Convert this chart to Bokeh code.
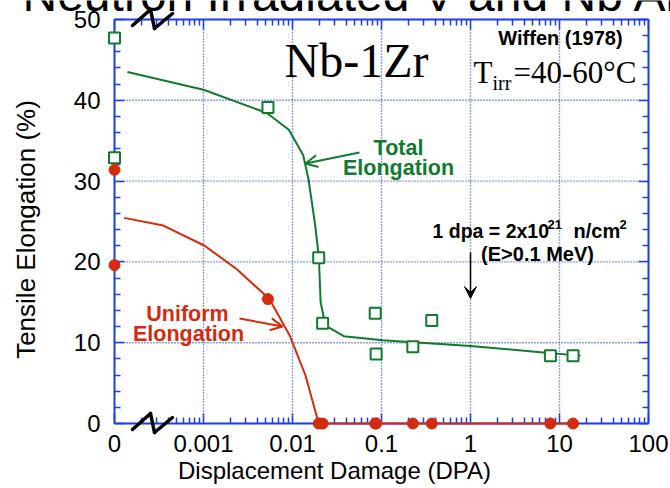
import math

from bokeh.plotting import figure
from bokeh.models import (Range1d, LinearAxis, LogAxis, FixedTicker, CustomJSTickFormatter,
                          Label, Arrow, OpenHead, VeeHead, Grid)
from bokeh.embed import file_html
from bokeh.resources import INLINE

# Tensile elongation of Nb-1Zr after neutron irradiation (Wiffen 1978).
# dpa = 0 marks the unirradiated controls, drawn at the origin of the broken axis.
total_dpa = [0, 0, 0.0053, 0.0197, 0.0218, 0.085, 0.087, 0.225, 0.367, 7.9, 14.2]
total_elong = [47.7, 32.9, 39.1, 20.5, 12.4, 13.65, 8.6, 9.5, 12.75, 8.4, 8.4]

uniform_dpa = [0, 0, 0.0053, 0.0197, 0.0218, 0.085, 0.087, 0.225, 0.367, 7.9, 14.2]
uniform_elong = [31.4, 19.6, 15.4, 0, 0, 0, 0, 0, 0, 0, 0]

# hand-drawn trend curves through the data
total_fit_dpa = [0.00014, 0.001, 0.0044, 0.0051, 0.0091, 0.0132, 0.0152, 0.0181,
                 0.0198, 0.0207, 0.0235, 0.0377, 0.1026, 1.0, 8.07, 17.2]
total_fit_elong = [43.5, 41.3, 38.7, 38.45, 36.35, 33.2, 30.1, 24.3,
                   20.5, 15.0, 12.1, 10.8, 10.3, 9.6, 8.7, 8.4]

uniform_fit_dpa = [0.000128, 0.000354, 0.00103, 0.00239, 0.0055, 0.0093, 0.0140, 0.0197, 14.2]
uniform_fit_elong = [25.45, 24.5, 22.0, 19.06, 15.4, 10.9, 5.94, 0.0, 0.0]

x_ticks = [1e-4, 1e-3, 1e-2, 1e-1, 1, 10, 100]
x_tick_labels = ["0", "0.001", "0.01", "0.1", "1", "10", "100"]
x_minor = [k * 10.0 ** d for d in range(-4, 2) for k in range(2, 10)]
y_ticks = [0, 10, 20, 30, 40, 50]
y_minor = [v for v in range(0, 51, 2) if v % 10]

BLUE = "#1b3ee6"
GREEN = "#127a2c"
RED = "#d42a0e"
SANS = "Liberation Sans"
SERIF = "Liberation Serif"

X_ZERO = 1e-4  # axis origin, labelled "0"

# The frame fills the whole canvas; axes are pinned to the data box
# (origin at pixel (114, 423), 89 px per decade, 8.08 px per %).
W, H = 670, 488
PX_DECADE = 89.0
PX_UNIT = 8.08
X0_PX, Y0_PX = 114, 423


def cx(px):
    return 10 ** (math.log10(X_ZERO) + (px - X0_PX) / PX_DECADE)


def cy(py):
    return (Y0_PX - py) / PX_UNIT


def at_origin(vals):
    return [v if v > 0 else X_ZERO for v in vals]


p = figure(width=W, height=H, x_axis_type="log",
           x_range=Range1d(cx(0), cx(W)), y_range=Range1d(cy(H), cy(0)),
           x_axis_location=None, y_axis_location=None,
           output_backend="svg", toolbar_location=None,
           min_border_left=0, min_border_right=0, min_border_top=0, min_border_bottom=0)
p.outline_line_color = None
p.background_fill_color = "white"
p.border_fill_color = "white"
# drop the automatic grids; a dotted grid clipped to the data box is drawn below
p.renderers = [r for r in p.renderers if not isinstance(r, Grid)]
p.center = [r for r in p.center if not isinstance(r, Grid)]

x_fmt = CustomJSTickFormatter(args=dict(tick_vals=x_ticks, tick_text=x_tick_labels), code="""
    for (let i = 0; i < tick_vals.length; i++) {
        if (Math.abs(Math.log10(tick_vals[i]) - Math.log10(tick)) < 1e-6) return tick_text[i];
    }
    return "";
""")
blank_fmt = CustomJSTickFormatter(code="return '';")


def style(ax, labels=True, standoff=12):
    ax.axis_line_color = BLUE
    ax.axis_line_width = 2
    ax.major_tick_line_color = BLUE
    ax.major_tick_line_width = 1.5
    ax.minor_tick_line_color = BLUE
    ax.minor_tick_line_width = 1.5
    ax.major_tick_in = 10
    ax.major_tick_out = 0
    ax.minor_tick_in = 6
    ax.minor_tick_out = 0
    ax.major_label_text_font = SANS
    ax.major_label_text_font_size = "24px" if labels else "0px"
    ax.major_label_text_color = "black"
    ax.major_label_standoff = standoff if labels else 0


x_ticker = FixedTicker(ticks=x_ticks, minor_ticks=x_minor)
y_ticker = FixedTicker(ticks=y_ticks, minor_ticks=y_minor)

bottom = LogAxis(ticker=x_ticker, formatter=x_fmt, bounds=(X_ZERO, 100), fixed_location=0)
style(bottom, standoff=11)
p.add_layout(bottom, "below")

top = LogAxis(ticker=x_ticker, formatter=blank_fmt, bounds=(X_ZERO, 100), fixed_location=50)
style(top, labels=False)
p.add_layout(top, "above")

left = LinearAxis(ticker=y_ticker, bounds=(0, 50), fixed_location=X_ZERO)
style(left, standoff=14)
p.add_layout(left, "left")

right = LinearAxis(ticker=y_ticker, formatter=blank_fmt, bounds=(0, 50), fixed_location=100)
style(right, labels=False)
p.add_layout(right, "right")

# dotted grid at the inner major ticks
gx = x_ticks[1:-1]
p.segment(x0=gx, y0=[0] * len(gx), x1=gx, y1=[50] * len(gx),
          line_color=BLUE, line_width=1.4, line_dash="1 2")
gy = y_ticks[1:-1]
p.segment(x0=[X_ZERO] * len(gy), y0=gy, x1=[100] * len(gy), y1=gy,
          line_color=BLUE, line_width=1.4, line_dash="1 2")

# trend curves and data
r = p.line(total_fit_dpa, total_fit_elong, line_color=GREEN, line_width=2)
r.level = "overlay"
r = p.line(uniform_fit_dpa, uniform_fit_elong, line_color=RED, line_width=2)
r.level = "overlay"
r = p.scatter(at_origin(total_dpa), total_elong, marker="square", size=11,
              fill_color="white", line_color=GREEN, line_width=2)
r.level = "overlay"
r = p.scatter(at_origin(uniform_dpa), uniform_elong, marker="circle", size=11,
              fill_color=RED, line_color=RED)
r.level = "overlay"


def label(px, py, text, size, font=SANS, color="black", style="normal",
          align="center", angle=0):
    # (px, py) is the vertical middle of the text line, in canvas pixels
    p.add_layout(Label(x=cx(px), y=cy(py), text=text, text_font=font,
                       text_font_size=f"{size}px", text_color=color, text_font_style=style,
                       text_align=align, text_baseline="middle", angle=angle,
                       angle_units="deg"))


# heading and axis titles
label(22, -6, "Neutron Irradiated V and Nb Alloys", 48, align="left")
label(25, 229, "Tensile Elongation (%)", 26, angle=90)
label(334, 470, "Displacement Damage (DPA)", 24)

# in-plot annotations
label(356, 60, "Nb-1Zr", 48, font=SERIF)
label(560, 37, "Wiffen (1978)", 20, style="bold")
label(473, 72, "T", 31, font=SERIF, align="left")
label(492, 82, "irr", 20, font=SERIF, align="left")
label(513, 72, "=40-60°C", 31, font=SERIF, align="left")

label(398, 147, "Total", 21.5, color=GREEN, style="bold")
label(398, 167, "Elongation", 21.5, color=GREEN, style="bold")
label(187, 313, "Uniform", 21.5, color=RED, style="bold")
label(188, 333, "Elongation", 21.5, color=RED, style="bold")

# fluence conversion note, with raised exponents
label(432, 230, "1 dpa = 2x10", 19.5, style="bold", align="left")
label(547, 224, "21", 13, style="bold", align="left")
label(573, 230, "n/cm", 20, style="bold", align="left")
label(619, 224, "2", 13, style="bold", align="left")
label(537, 253, "(E>0.1 MeV)", 20, style="bold")

p.add_layout(Arrow(x_start=cx(359), y_start=cy(152), x_end=cx(305), y_end=cy(163),
                   line_color=GREEN, line_width=2,
                   end=OpenHead(size=12, line_color=GREEN, line_width=2)))
p.add_layout(Arrow(x_start=cx(239), y_start=cy(318), x_end=cx(282), y_end=cy(326),
                   line_color=RED, line_width=2,
                   end=OpenHead(size=12, line_color=RED, line_width=2)))
p.add_layout(Arrow(x_start=1, y_start=cy(252), x_end=1, y_end=cy(298),
                   line_color="black", line_width=1.5,
                   end=VeeHead(size=12, fill_color="black", line_color="black")))

# axis-break marks on the top and bottom edges
zig_x = [132, 150, 154, 172]
zig_dy = [6, -10, 9, -6]
for edge in (19, 423):
    for i in range(3):
        p.add_layout(Arrow(x_start=cx(zig_x[i]), y_start=cy(edge + zig_dy[i]),
                           x_end=cx(zig_x[i + 1]), y_end=cy(edge + zig_dy[i + 1]),
                           line_color="black", line_width=3.5, line_cap="round", end=None))

open("out.html", "w").write(file_html(p, INLINE))
